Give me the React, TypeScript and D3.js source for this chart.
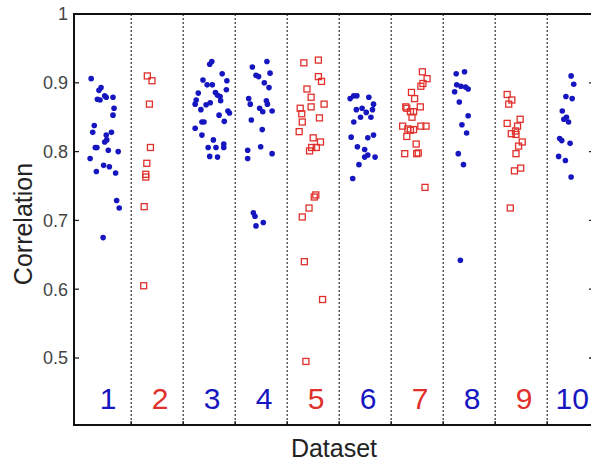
import React from 'react';
import * as d3 from 'd3';

// [x jitter in dataset units, correlation]
const d1: [number, number][] = [
  [-0.27, 0.906], [-0.08, 0.893], [-0.12, 0.889], [-0.15, 0.876], [-0.10, 0.875], [-0.01, 0.881],
  [0.02, 0.879], [0.15, 0.879], [0.17, 0.863], [0.15, 0.853], [-0.21, 0.838], [-0.24, 0.828],
  [0.12, 0.828], [0.02, 0.824], [0.03, 0.817], [-0.01, 0.814], [-0.16, 0.806], [-0.19, 0.806],
  [0.06, 0.802], [0.25, 0.800], [-0.29, 0.790], [-0.03, 0.780], [0.08, 0.778], [-0.17, 0.771],
  [0.20, 0.769], [0.22, 0.729], [0.27, 0.718], [-0.04, 0.675],
];
const d2: [number, number][] = [
  [-0.19, 0.910], [-0.10, 0.903], [-0.15, 0.869], [-0.13, 0.806], [-0.20, 0.783],
  [-0.22, 0.767], [-0.22, 0.763], [-0.25, 0.720], [-0.26, 0.605],
];
const d3s: [number, number][] = [
  [0.01, 0.927], [0.05, 0.931], [0.25, 0.913], [0.34, 0.903], [-0.12, 0.904], [-0.04, 0.897],
  [0.06, 0.897], [0.33, 0.890], [-0.21, 0.885], [0.12, 0.886], [0.16, 0.882], [0.21, 0.880],
  [-0.25, 0.875], [0.22, 0.874], [-0.06, 0.868], [0.02, 0.871], [-0.27, 0.869], [-0.16, 0.861],
  [0.36, 0.859], [0.39, 0.856], [0.19, 0.853], [-0.14, 0.843], [-0.10, 0.843], [0.29, 0.844],
  [-0.27, 0.834], [-0.14, 0.824], [0.08, 0.817], [-0.02, 0.806], [0.13, 0.806], [0.28, 0.811],
  [0.28, 0.806], [0.01, 0.793], [0.16, 0.792],
];
const d4: [number, number][] = [
  [0.11, 0.931], [-0.17, 0.923], [-0.10, 0.911], [-0.05, 0.909], [0.17, 0.914], [0.06, 0.900],
  [0.15, 0.893], [-0.24, 0.877], [-0.21, 0.869], [0.10, 0.874], [0.12, 0.869], [-0.03, 0.863],
  [0.03, 0.858], [0.21, 0.859], [-0.19, 0.846], [0.02, 0.832], [-0.26, 0.802], [-0.01, 0.807],
  [0.21, 0.797], [-0.26, 0.790], [-0.15, 0.711], [-0.12, 0.706], [0.04, 0.697], [-0.10, 0.692],
];
const d5: [number, number][] = [
  [-0.18, 0.929], [0.10, 0.933], [0.10, 0.909], [0.16, 0.902], [-0.12, 0.891], [-0.04, 0.879],
  [0.21, 0.869], [-0.25, 0.863], [-0.04, 0.865], [-0.22, 0.855], [0.12, 0.849], [-0.21, 0.843],
  [-0.27, 0.829], [0.00, 0.820], [0.14, 0.814], [-0.03, 0.806], [0.06, 0.806], [-0.07, 0.801],
  [0.05, 0.737], [0.02, 0.734], [-0.08, 0.718], [-0.21, 0.705], [-0.17, 0.640], [0.18, 0.585],
  [-0.14, 0.495],
];
const d6: [number, number][] = [
  [-0.29, 0.877], [-0.22, 0.881], [-0.16, 0.881], [0.07, 0.879], [0.16, 0.869], [-0.17, 0.861],
  [-0.06, 0.863], [0.14, 0.861], [0.02, 0.857], [-0.09, 0.850], [0.11, 0.850], [-0.22, 0.843],
  [-0.27, 0.821], [0.05, 0.820], [0.16, 0.824], [-0.15, 0.807], [-0.01, 0.803], [0.05, 0.795],
  [-0.01, 0.792], [0.19, 0.792], [-0.12, 0.781], [-0.24, 0.761],
];
const d7: [number, number][] = [
  [0.10, 0.916], [0.19, 0.906], [0.11, 0.899], [0.07, 0.895], [-0.11, 0.886], [-0.05, 0.877],
  [-0.22, 0.865], [-0.20, 0.863], [0.06, 0.865], [-0.13, 0.858], [-0.07, 0.858], [-0.10, 0.850],
  [-0.28, 0.837], [-0.18, 0.833], [-0.13, 0.831], [-0.07, 0.832], [0.07, 0.837], [0.17, 0.837],
  [-0.20, 0.822], [-0.02, 0.811], [-0.24, 0.797], [-0.01, 0.797], [0.02, 0.798], [0.15, 0.748],
];
const d8: [number, number][] = [
  [-0.25, 0.913], [-0.09, 0.916], [-0.24, 0.897], [-0.16, 0.895], [-0.07, 0.894], [-0.02, 0.891],
  [-0.28, 0.887], [-0.19, 0.872], [-0.02, 0.852], [-0.14, 0.839], [-0.05, 0.827], [-0.21, 0.797],
  [-0.11, 0.781], [-0.17, 0.642],
];
const d9: [number, number][] = [
  [-0.27, 0.883], [-0.18, 0.875], [-0.24, 0.869], [-0.02, 0.847], [-0.07, 0.837], [-0.27, 0.841],
  [-0.11, 0.830], [-0.19, 0.826], [-0.10, 0.825], [0.02, 0.814], [-0.05, 0.808], [-0.10, 0.797],
  [-0.01, 0.776], [-0.13, 0.772], [-0.21, 0.718],
];
const d10: [number, number][] = [
  [-0.04, 0.910], [0.01, 0.898], [-0.14, 0.880], [-0.02, 0.877], [-0.21, 0.859], [-0.13, 0.850],
  [-0.18, 0.847], [-0.09, 0.843], [-0.26, 0.819], [-0.22, 0.816], [-0.06, 0.812], [-0.28, 0.793],
  [-0.15, 0.787], [-0.04, 0.763],
];

const datasets = [d1, d2, d3s, d4, d5, d6, d7, d8, d9, d10];
const datasetIds = [1, 2, 3, 4, 5, 6, 7, 8, 9, 10];
// red squares for these, blue dots for the rest
const redSets = [2, 5, 7, 9];
const yTicks = [0.5, 0.6, 0.7, 0.8, 0.9, 1];
const dividers = [1.5, 2.5, 3.5, 4.5, 5.5, 6.5, 7.5, 8.5, 9.5];

const BLUE = '#1616c0';
const RED = '#e0302c';
const FONT = '"Liberation Sans", Arial, sans-serif';

export default function App() {
  const W = 591;
  const H = 462;
  const left = 74;
  const right = 594;
  const top = 14;
  const bottom = 425;

  const x = d3.scaleLinear().domain([0.4, 10.4]).range([left, right]);
  const y = d3.scaleLinear().domain([0.5, 1]).range([358, top]);
  const fmt = d3.format('');

  return (
    <svg width={W} height={H} style={{ position: 'absolute', left: 0, top: 0 }} fontFamily={FONT}>
      <rect width={W} height={H} fill="#fff" />
      {dividers.map(d => (
        <line key={d} x1={x(d)} x2={x(d)} y1={top} y2={bottom}
          stroke="#333" strokeWidth={1.2} strokeDasharray="2,2" />
      ))}
      {yTicks.map(t => (
        <g key={t}>
          <line x1={left} x2={left + 5} y1={y(t)} y2={y(t)} stroke="#222" strokeWidth={1.3} />
          <line x1={right - 5} x2={right} y1={y(t)} y2={y(t)} stroke="#222" strokeWidth={1.3} />
          <text x={68} y={y(t)} dy="0.36em" textAnchor="end" fontSize={18} fill="#444">{fmt(t)}</text>
        </g>
      ))}
      {dividers.map(d => (
        <line key={'b' + d} x1={x(d)} x2={x(d)} y1={bottom} y2={bottom - 4} stroke="#222" strokeWidth={1.3} />
      ))}
      {datasets.map((pts, i) => {
        const id = datasetIds[i];
        const red = redSets.includes(id);
        return (
          <g key={id}>
            {pts.map(([j, v], k) => red ? (
              <rect key={k} x={x(id + j) - 3} y={y(v) - 3} width={6} height={6}
                fill="none" stroke={RED} strokeWidth={1.3} />
            ) : (
              <circle key={k} cx={x(id + j)} cy={y(v)} r={2.8} fill={BLUE} />
            ))}
            <text x={x(id) + (id < 10 ? 3 : -1)} y={409} textAnchor="middle" fontSize={30}
              fill={red ? RED : BLUE}>{id}</text>
          </g>
        );
      })}
      <rect x={left} y={top} width={right - left} height={bottom - top}
        fill="none" stroke="#111" strokeWidth={2} />
      <text x={334} y={457} textAnchor="middle" fontSize={25} fill="#222">Dataset</text>
      <text transform={`translate(32,${224}) rotate(-90)`} textAnchor="middle" fontSize={25} fill="#222">Correlation</text>
    </svg>
  );
}
